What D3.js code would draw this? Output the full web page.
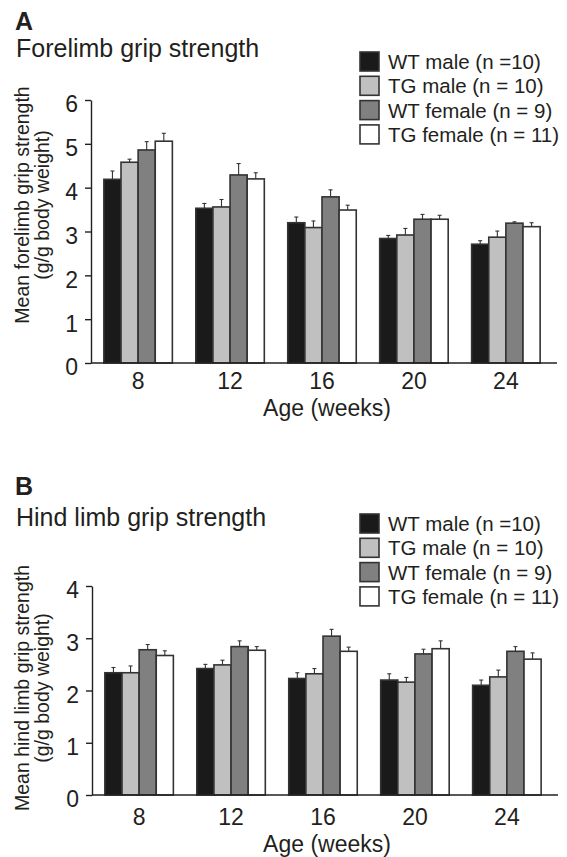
<!DOCTYPE html>
<html>
<head>
  <meta charset='utf-8'/>
  <style>
body { margin: 0; background: #fff; }
svg text { font-family: "Liberation Sans", Arial, Helvetica, sans-serif; fill: #231f20; }
.axis path, .axis line { stroke: #231f20; stroke-width: 1.4px; }
.axis text { font-size: 23px; }
  </style>
  <script src="https://d3js.org/d3.v7.min.js" charset="utf-8"></script>
</head>
<body>
<svg width="567" height="857"></svg>
<script>

var ages = ["8", "12", "16", "20", "24"];
var groups = ["WT male (n =10)", "TG male (n = 10)", "WT female (n = 9)", "TG female (n = 11)"];
var fills = ["#1a1a1a", "#c0c0c0", "#808080", "#ffffff"];

// one row per group, one value per age
var foreMean = [
  [4.19, 3.53, 3.20, 2.84, 2.71],
  [4.58, 3.56, 3.09, 2.92, 2.87],
  [4.86, 4.29, 3.79, 3.28, 3.19],
  [5.06, 4.20, 3.49, 3.28, 3.11]
];
var foreErr = [
  [0.19, 0.11, 0.13, 0.07, 0.08],
  [0.07, 0.17, 0.15, 0.15, 0.14],
  [0.19, 0.26, 0.16, 0.11, 0.03],
  [0.18, 0.14, 0.11, 0.09, 0.09]
];
var hindMean = [
  [2.34, 2.42, 2.23, 2.20, 2.10],
  [2.34, 2.49, 2.32, 2.16, 2.26],
  [2.78, 2.84, 3.04, 2.70, 2.75],
  [2.67, 2.77, 2.75, 2.80, 2.60]
];
var hindErr = [
  [0.10, 0.08, 0.11, 0.12, 0.10],
  [0.13, 0.09, 0.10, 0.09, 0.13],
  [0.10, 0.11, 0.13, 0.09, 0.09],
  [0.09, 0.07, 0.08, 0.15, 0.12]
];
var foreTicks = [0, 1, 2, 3, 4, 5, 6];
var hindTicks = [0, 1, 2, 3, 4];

var svg = d3.select("svg");

function panel(o) {
  var g = svg.append("g");

  // header
  g.append("text").attr("x", 15).attr("y", o.top + 30)
      .style("font-size", "25px").style("font-weight", "bold").text(o.letter);
  g.append("text").attr("x", 16).attr("y", o.top + o.titleY)
      .style("font-size", "25px").text(o.title);

  var leg = g.selectAll(".leg").data(groups).enter().append("g")
      .attr("transform", function(d, i) { return "translate(" + o.legX + "," + (o.legTop + i * 24.3) + ")"; });
  leg.append("rect").attr("width", 19).attr("height", 19)
      .attr("fill", function(d, i) { return fills[i]; })
      .attr("stroke", "#333").attr("stroke-width", 1.6);
  leg.append("text").attr("x", 28).attr("y", 17)
      .style("font-size", "20.5px").text(function(d) { return d; });

  var y = d3.scaleLinear().domain([0, d3.max(o.ticks)]).range([o.y0, o.y1]);
  var x = d3.scaleBand().domain(ages).range([o.x0, o.x1])
      .paddingInner(0.255).paddingOuter(0.14);
  var xs = d3.scaleBand().domain(d3.range(groups.length)).range([0, x.bandwidth()]);

  // bars
  var cells = [];
  o.mean.forEach(function(row, s) {
    row.forEach(function(v, a) { cells.push({ s: s, age: ages[a], v: v, e: o.err[s][a] }); });
  });

  var bar = g.selectAll(".bar").data(cells).enter().append("g")
      .attr("transform", function(d) { return "translate(" + (x(d.age) + xs(d.s)) + ",0)"; });

  bar.append("line")
      .attr("x1", xs.bandwidth() / 2).attr("x2", xs.bandwidth() / 2)
      .attr("y1", function(d) { return y(d.v); })
      .attr("y2", function(d) { return y(d.v + d.e); })
      .attr("stroke", "#333").attr("stroke-width", 1.1);
  bar.append("line")
      .attr("x1", xs.bandwidth() / 2 - 2).attr("x2", xs.bandwidth() / 2 + 2)
      .attr("y1", function(d) { return y(d.v + d.e); })
      .attr("y2", function(d) { return y(d.v + d.e); })
      .attr("stroke", "#333").attr("stroke-width", 1.1);
  bar.append("rect")
      .attr("y", function(d) { return y(d.v); })
      .attr("width", xs.bandwidth())
      .attr("height", function(d) { return y(0) - y(d.v); })
      .attr("fill", function(d) { return fills[d.s]; })
      .attr("stroke", "#333").attr("stroke-width", 1.6);

  // axes
  g.append("g").attr("class", "axis")
      .attr("transform", "translate(" + o.x0 + ",0)")
      .call(d3.axisLeft(y).tickValues(o.ticks).tickFormat(d3.format("d"))
        .tickSize(6).tickSizeOuter(0).tickPadding(7))
      .call(function(s) { s.selectAll("text").attr("dy", "0.52em"); });

  var xa = g.append("g").attr("class", "axis")
      .attr("transform", "translate(0," + o.y0 + ")")
      .call(d3.axisBottom(x).tickSize(0).tickPadding(o.tickPad));
  xa.select(".domain").attr("d", "M" + o.x0 + ",0H" + o.xEnd);

  g.append("text").attr("x", 327).attr("y", o.xTitle)
      .attr("text-anchor", "middle").style("font-size", "23px").text("Age (weeks)");

  var yl = g.append("text").attr("text-anchor", "middle")
      .attr("transform", "translate(29," + o.yMid + ") rotate(-90)")
      .style("font-size", "19.5px");
  yl.append("tspan").attr("x", 0).attr("y", 0).text(o.yLabel);
  yl.append("tspan").attr("x", 0).attr("y", 19.5).text("(g/g body weight)");
}

panel({
  top: 0, letter: "A", title: "Forelimb grip strength", titleY: 57,
  legX: 360, legTop: 52,
  mean: foreMean, err: foreErr, ticks: foreTicks,
  y0: 363, y1: 100, x0: 91, x1: 553, xEnd: 557, tickPad: 10, xTitle: 416,
  yMid: 205, yLabel: "Mean forelimb grip strength"
});

panel({
  top: 465, letter: "B", title: "Hind limb grip strength", titleY: 61,
  legX: 360, legTop: 514,
  mean: hindMean, err: hindErr, ticks: hindTicks,
  y0: 795, y1: 586, x0: 92, x1: 554, xEnd: 558, tickPad: 14, xTitle: 852,
  yMid: 688, yLabel: "Mean hind limb grip strength"
});

</script>
</body>
</html>
